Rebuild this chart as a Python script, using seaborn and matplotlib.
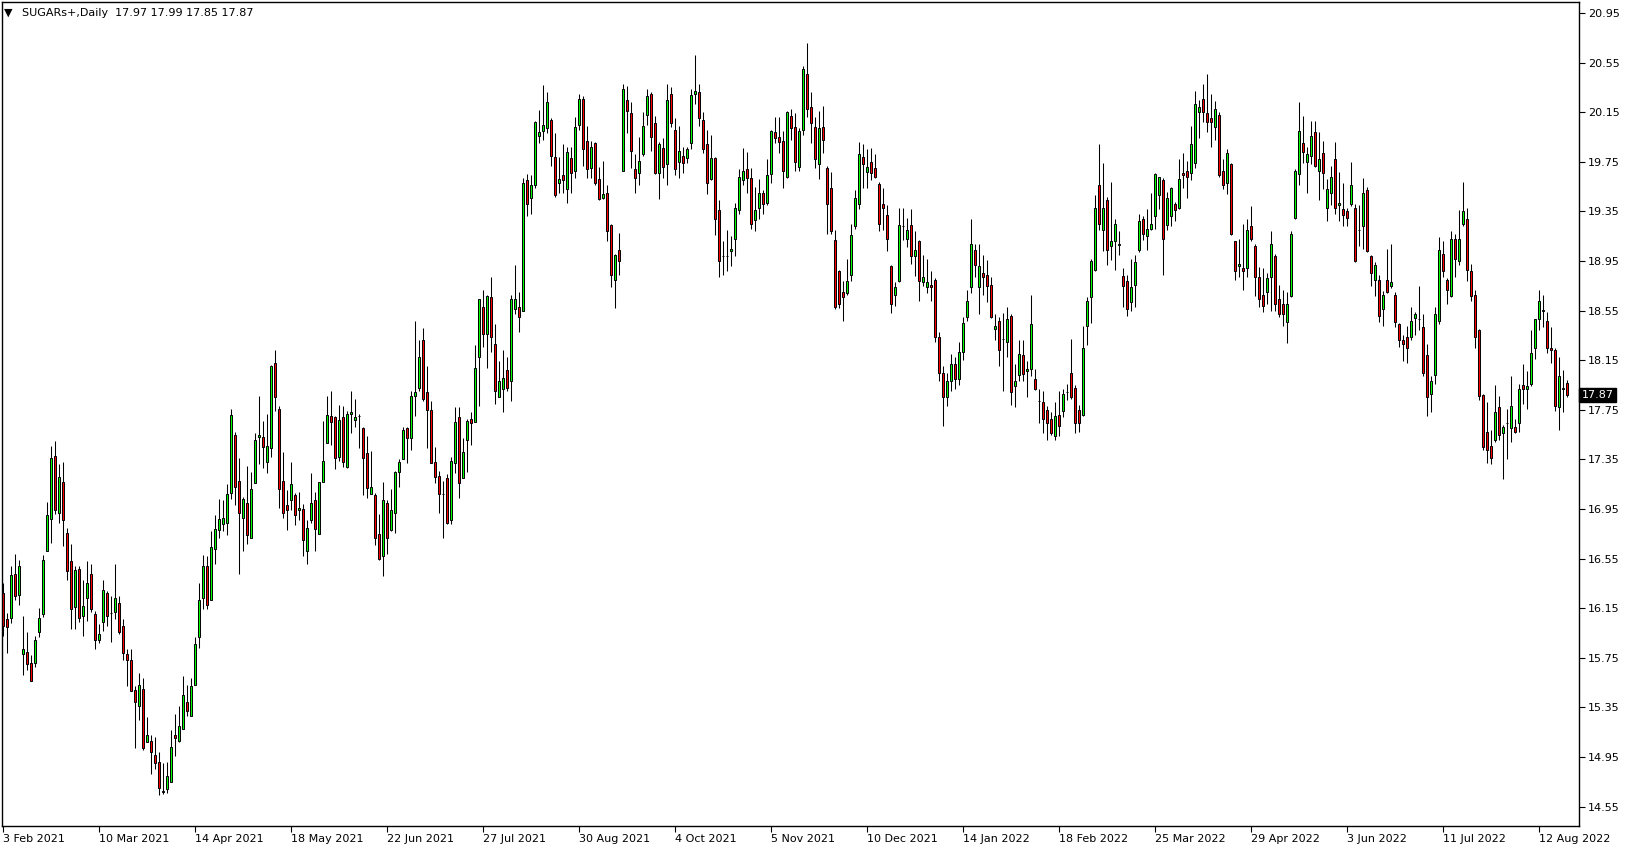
import numpy as np
import pandas as pd
import matplotlib
matplotlib.use("Agg")
import matplotlib.pyplot as plt
import matplotlib.transforms as mtransforms
import seaborn as sns

# daily OHLC, SUGARs+
opens = [
    16.27, 16.06, 16.07, 16.43, 16.26, 15.78, 15.80, 15.71, 15.71, 15.96,
    16.10, 16.61, 16.87, 17.38, 16.92, 17.17, 16.76, 16.53, 16.16, 16.47,
    16.09, 16.23, 16.43, 16.10, 15.89, 16.04, 16.27, 16.11, 16.12, 16.19,
    16.01, 15.78, 15.73, 15.49, 15.36, 15.50, 15.07, 15.08, 14.97, 14.91,
    14.67, 14.69, 14.75, 15.13, 15.08, 15.18, 15.39, 15.28, 15.53, 15.92,
    16.23, 16.49, 16.22, 16.63, 16.78, 16.83, 16.84, 17.08, 17.55, 17.18,
    16.88, 17.00, 16.72, 17.16, 17.53, 17.53, 17.33, 17.44, 18.13, 17.76,
    17.18, 16.98, 17.02, 17.06, 16.94, 16.95, 16.61, 16.86, 17.02, 16.75,
    17.17, 17.48, 17.70, 17.69, 17.37, 17.69, 17.29, 17.72, 17.67, 17.70,
    17.60, 17.40, 17.07, 17.06, 16.75, 16.57, 17.00, 16.78, 16.92, 17.25,
    17.35, 17.60, 17.52, 17.86, 17.93, 18.31, 17.89, 17.75, 17.33, 17.22,
    17.07, 17.20, 16.86, 17.32, 17.69, 17.20, 17.51, 17.68, 17.65, 18.18,
    18.58, 18.36, 18.66, 18.28, 17.85, 17.92, 18.07, 17.98, 18.56, 18.58,
    18.55, 19.60, 19.46, 19.56, 19.96, 20.00, 20.02, 20.09, 19.79, 19.58,
    19.64, 19.53, 19.78, 19.68, 20.05, 20.26, 19.92, 19.70, 19.90, 19.61,
    19.46, 19.50, 19.24, 18.80, 19.04, 19.68, 20.25, 20.14, 19.69, 19.66,
    19.81, 20.13, 20.30, 20.06, 19.66, 19.86, 19.73, 20.30, 20.01, 19.75,
    19.80, 19.78, 19.90, 20.30, 20.31, 20.09, 19.89, 19.61, 19.78, 19.36,
    18.99, 18.99, 19.03, 19.13, 19.36, 19.60, 19.69, 19.62, 19.28, 19.38,
    19.50, 19.42, 19.65, 19.99, 19.95, 19.92, 19.63, 20.12, 20.03, 19.71,
    20.01, 20.46, 20.19, 20.03, 19.73, 20.03, 19.70, 19.54, 19.12, 18.87,
    18.70, 18.69, 18.84, 19.23, 19.41, 19.79, 19.67, 19.75, 19.70, 19.57,
    19.41, 19.32, 18.91, 18.68, 18.79, 19.23, 19.13, 19.24, 18.99, 19.11,
    18.78, 18.74, 18.76, 18.80, 18.34, 18.05, 17.85, 17.98, 18.12, 18.00,
    18.22, 18.50, 18.74, 19.04, 18.74, 18.85, 18.84, 18.76, 18.40, 18.47,
    18.32, 18.30, 18.51, 17.94, 18.03, 18.19, 18.06, 18.08, 18.00, 17.82,
    17.81, 17.75, 17.68, 17.54, 17.71, 17.74, 17.89, 18.05, 17.93, 17.75,
    17.71, 18.43, 18.66, 18.88, 19.56, 19.20, 19.44, 19.07, 19.11, 19.08,
    18.83, 18.79, 18.62, 18.76, 19.04, 19.29, 19.15, 19.21, 19.31, 19.48,
    19.60, 19.24, 19.31, 19.41, 19.38, 19.66, 19.68, 19.66, 19.74, 20.15,
    20.26, 20.14, 20.10, 20.03, 20.13, 19.68, 19.58, 19.73, 19.11, 18.91,
    18.89, 18.89, 19.23, 19.07, 18.82, 18.68, 18.70, 18.82, 18.99, 18.64,
    18.60, 18.46, 18.67, 19.30, 19.65, 19.90, 19.75, 19.80, 19.99, 19.68,
    19.82, 19.38, 19.50, 19.77, 19.40, 19.37, 19.35, 19.41, 19.38, 19.20,
    19.23, 19.52, 18.99, 18.80, 18.80, 18.56, 18.80, 18.75, 18.68, 18.44,
    18.31, 18.34, 18.34, 18.49, 18.48, 18.42, 18.19, 17.88, 18.03, 18.47,
    19.01, 18.80, 18.67, 19.13, 18.95, 19.25, 19.29, 18.87, 18.68, 18.39,
    17.87, 17.57, 17.46, 17.51, 17.77, 17.56, 17.64, 17.60, 17.61, 17.64,
    17.95, 17.92, 17.96, 18.25, 18.48, 18.55, 18.47, 18.25, 18.23, 17.77,
    17.92, 17.97,
]
highs = [
    16.35, 16.11, 16.49, 16.59, 16.54, 16.09, 15.96, 15.77, 15.93, 16.15,
    16.58, 17.01, 17.46, 17.50, 17.31, 17.33, 16.80, 16.67, 16.49, 16.49,
    16.38, 16.53, 16.51, 16.13, 16.02, 16.38, 16.29, 16.25, 16.51, 16.25,
    16.06, 15.82, 15.82, 15.52, 15.63, 15.59, 15.27, 15.13, 15.11, 14.99,
    14.90, 14.91, 15.17, 15.30, 15.36, 15.60, 15.53, 15.59, 15.92, 16.35,
    16.58, 16.57, 16.77, 16.90, 17.03, 17.02, 17.15, 17.76, 17.57, 17.36,
    17.05, 17.30, 17.25, 17.56, 17.86, 17.66, 17.72, 18.11, 18.23, 17.78,
    17.41, 17.10, 17.33, 17.08, 17.09, 16.99, 16.86, 17.24, 17.09, 17.17,
    17.66, 17.86, 17.90, 17.70, 17.79, 17.78, 17.74, 17.90, 17.84, 17.72,
    17.61, 17.54, 17.42, 17.08, 16.91, 17.17, 17.02, 17.11, 17.26, 17.35,
    17.61, 17.61, 17.90, 18.47, 18.31, 18.41, 18.10, 17.82, 17.45, 17.26,
    17.18, 17.23, 17.37, 17.77, 17.77, 17.52, 17.68, 17.73, 18.27, 18.64,
    18.72, 18.68, 18.82, 18.44, 18.14, 18.23, 18.18, 18.68, 18.92, 18.70,
    19.62, 19.65, 19.64, 20.08, 20.17, 20.37, 20.31, 20.10, 19.98, 19.79,
    19.89, 19.87, 19.87, 20.11, 20.30, 20.28, 20.04, 19.92, 19.91, 19.71,
    19.76, 19.56, 19.25, 19.01, 19.18, 20.38, 20.36, 20.23, 19.81, 19.95,
    20.15, 20.34, 20.31, 20.12, 19.91, 19.94, 20.38, 20.35, 20.10, 20.04,
    19.87, 19.87, 20.34, 20.61, 20.38, 20.15, 20.01, 19.97, 19.79, 19.44,
    19.11, 19.20, 19.15, 19.42, 19.69, 19.86, 19.83, 19.70, 19.55, 19.61,
    19.52, 19.77, 20.01, 20.11, 20.11, 20.00, 20.16, 20.18, 20.14, 20.02,
    20.52, 20.71, 20.31, 20.11, 20.16, 20.20, 19.72, 19.67, 19.20, 18.88,
    18.79, 18.97, 19.25, 19.52, 19.91, 19.89, 19.85, 19.86, 19.81, 19.59,
    19.54, 19.40, 18.92, 18.78, 19.38, 19.38, 19.30, 19.37, 19.19, 19.12,
    19.00, 18.97, 18.87, 18.81, 18.38, 18.10, 18.05, 18.20, 18.18, 18.30,
    18.50, 18.72, 19.29, 19.09, 19.09, 19.00, 18.96, 18.82, 18.52, 18.50,
    18.53, 18.58, 18.52, 18.12, 18.31, 18.31, 18.14, 18.68, 18.08, 17.92,
    17.90, 17.78, 17.73, 17.81, 17.90, 17.92, 17.96, 18.32, 17.95, 17.79,
    18.43, 18.66, 18.97, 19.48, 19.89, 19.74, 19.47, 19.59, 19.29, 19.19,
    18.89, 18.84, 18.97, 19.00, 19.33, 19.31, 19.37, 19.50, 19.66, 19.63,
    19.62, 19.51, 19.55, 19.43, 19.77, 19.82, 19.76, 20.04, 20.32, 20.25,
    20.38, 20.46, 20.30, 20.24, 20.15, 19.77, 19.85, 19.74, 19.11, 19.13,
    19.25, 19.29, 19.39, 19.09, 18.90, 18.89, 18.85, 19.19, 19.01, 18.76,
    18.72, 18.70, 19.19, 19.69, 20.23, 20.12, 19.87, 20.08, 20.08, 19.99,
    19.92, 19.61, 19.72, 19.91, 19.67, 19.58, 19.38, 19.75, 19.41, 19.40,
    19.62, 19.55, 19.00, 18.94, 18.84, 18.71, 19.05, 19.09, 18.70, 18.45,
    18.35, 18.43, 18.58, 18.54, 18.75, 18.52, 18.28, 18.02, 18.58, 19.14,
    19.11, 18.81, 19.19, 19.17, 19.36, 19.59, 19.38, 18.93, 18.72, 18.40,
    17.88, 17.81, 17.59, 17.95, 17.86, 17.63, 17.76, 18.02, 17.68, 17.96,
    18.12, 18.06, 18.39, 18.48, 18.72, 18.68, 18.54, 18.42, 18.25, 18.18,
    18.07, 17.99,
]
lows = [
    15.93, 15.79, 16.03, 16.22, 16.18, 15.61, 15.65, 15.56, 15.68, 15.92,
    16.08, 16.61, 16.68, 16.91, 16.84, 16.65, 16.38, 15.98, 15.98, 16.04,
    15.93, 16.05, 16.12, 15.82, 15.87, 15.97, 16.01, 15.88, 16.06, 15.94,
    15.73, 15.52, 15.48, 15.02, 15.25, 15.01, 15.07, 14.81, 14.85, 14.64,
    14.65, 14.66, 14.75, 14.96, 15.07, 15.18, 15.28, 15.28, 15.53, 15.83,
    16.14, 16.14, 16.22, 16.51, 16.72, 16.77, 16.74, 17.03, 16.98, 16.43,
    16.61, 16.67, 16.72, 17.16, 17.31, 17.28, 17.24, 17.37, 17.74, 16.96,
    16.88, 16.78, 16.94, 16.82, 16.86, 16.57, 16.51, 16.84, 16.61, 16.75,
    17.17, 17.48, 17.47, 17.27, 17.34, 17.29, 17.28, 17.56, 17.61, 17.44,
    17.06, 17.04, 17.07, 16.66, 16.54, 16.41, 16.59, 16.77, 16.76, 17.13,
    17.35, 17.32, 17.43, 17.70, 17.90, 17.82, 17.44, 17.32, 17.16, 16.92,
    16.72, 16.83, 16.83, 17.24, 17.04, 17.20, 17.25, 17.47, 17.65, 17.78,
    18.26, 18.09, 18.22, 17.80, 17.85, 17.73, 17.90, 17.82, 18.52, 18.38,
    18.55, 19.31, 19.33, 19.54, 19.90, 19.93, 19.98, 19.72, 19.47, 19.50,
    19.50, 19.42, 19.50, 19.62, 20.01, 19.72, 19.62, 19.62, 19.56, 19.44,
    19.45, 19.11, 18.74, 18.57, 18.84, 19.68, 19.98, 19.70, 19.50, 19.56,
    19.80, 20.05, 19.84, 19.65, 19.45, 19.62, 19.56, 20.03, 19.64, 19.62,
    19.66, 19.74, 19.85, 20.22, 20.04, 19.82, 19.49, 19.60, 19.16, 18.82,
    18.84, 18.87, 18.91, 18.99, 19.33, 19.56, 19.50, 19.21, 19.19, 19.29,
    19.33, 19.40, 19.58, 19.90, 19.82, 19.54, 19.62, 19.93, 19.68, 19.68,
    19.97, 20.11, 19.90, 19.70, 19.61, 19.82, 19.17, 19.17, 18.56, 18.57,
    18.47, 18.68, 18.79, 19.21, 19.37, 19.54, 19.54, 19.60, 19.62, 19.19,
    19.20, 19.03, 18.53, 18.59, 18.78, 19.12, 19.06, 18.93, 18.83, 18.63,
    18.75, 18.69, 18.63, 18.30, 17.98, 17.62, 17.78, 17.90, 17.92, 17.95,
    18.15, 18.47, 18.69, 18.82, 18.52, 18.68, 18.62, 18.49, 18.31, 18.10,
    17.90, 18.18, 17.79, 17.77, 17.98, 17.98, 17.85, 18.02, 17.91, 17.64,
    17.56, 17.51, 17.55, 17.51, 17.54, 17.69, 17.83, 17.84, 17.56, 17.57,
    17.70, 18.27, 18.45, 18.87, 19.20, 19.03, 18.92, 18.96, 18.88, 19.00,
    18.58, 18.51, 18.55, 18.58, 19.02, 19.12, 19.04, 19.20, 19.21, 19.37,
    18.84, 19.20, 19.23, 19.27, 19.37, 19.54, 19.46, 19.60, 19.70, 19.94,
    20.07, 19.99, 19.87, 19.93, 19.63, 19.53, 19.49, 19.16, 18.80, 18.82,
    18.72, 18.82, 19.11, 18.67, 18.58, 18.54, 18.60, 18.55, 18.55, 18.50,
    18.43, 18.29, 18.66, 19.29, 19.56, 19.74, 19.50, 19.73, 19.71, 19.44,
    19.53, 19.27, 19.40, 19.33, 19.27, 19.23, 19.23, 19.39, 18.94, 19.07,
    19.05, 19.02, 18.75, 18.67, 18.46, 18.43, 18.69, 18.73, 18.42, 18.26,
    18.14, 18.13, 18.31, 18.35, 18.39, 18.02, 17.70, 17.73, 17.96, 18.44,
    18.82, 18.60, 18.66, 18.82, 18.92, 19.23, 18.79, 18.63, 18.25, 17.83,
    17.43, 17.32, 17.31, 17.49, 17.51, 17.19, 17.35, 17.49, 17.56, 17.57,
    17.80, 17.76, 17.94, 18.16, 18.39, 18.42, 18.21, 18.13, 17.74, 17.59,
    17.73, 17.85,
]
closes = [
    16.01, 16.00, 16.42, 16.25, 16.49, 15.82, 15.70, 15.56, 15.89, 16.07,
    16.54, 16.90, 17.36, 16.94, 17.21, 16.86, 16.45, 16.14, 16.46, 16.07,
    16.17, 16.35, 16.14, 15.89, 15.94, 16.30, 16.09, 16.11, 16.23, 15.96,
    15.79, 15.73, 15.48, 15.39, 15.53, 15.02, 15.13, 14.99, 14.90, 14.70,
    14.67, 14.80, 15.03, 15.10, 15.20, 15.45, 15.32, 15.52, 15.86, 16.22,
    16.49, 16.18, 16.64, 16.79, 16.87, 16.88, 17.07, 17.71, 17.13, 16.92,
    17.03, 16.74, 17.11, 17.51, 17.55, 17.45, 17.46, 18.10, 17.85, 17.11,
    16.92, 16.94, 17.15, 16.90, 16.96, 16.70, 16.80, 17.00, 16.79, 17.17,
    17.34, 17.71, 17.65, 17.36, 17.67, 17.33, 17.72, 17.73, 17.69, 17.70,
    17.36, 17.12, 17.13, 16.72, 16.55, 17.02, 16.72, 16.94, 17.25, 17.33,
    17.59, 17.52, 17.86, 17.89, 18.18, 17.84, 17.75, 17.32, 17.21, 17.07,
    17.07, 16.84, 17.34, 17.65, 17.16, 17.41, 17.66, 17.64, 18.09, 18.64,
    18.36, 18.67, 18.34, 17.90, 17.98, 18.01, 17.93, 18.64, 18.64, 18.50,
    19.58, 19.41, 19.56, 20.07, 19.99, 20.05, 20.23, 19.80, 19.48, 19.61,
    19.60, 19.83, 19.66, 20.03, 20.26, 19.85, 19.69, 19.87, 19.58, 19.45,
    19.49, 19.19, 18.84, 19.00, 18.95, 20.34, 20.16, 19.84, 19.62, 19.76,
    20.04, 20.28, 19.95, 19.66, 19.89, 19.71, 20.25, 20.06, 19.69, 19.84,
    19.74, 19.85, 20.29, 20.32, 20.10, 19.85, 19.58, 19.78, 19.29, 18.95,
    18.99, 18.99, 19.05, 19.38, 19.63, 19.68, 19.62, 19.25, 19.36, 19.50,
    19.41, 19.64, 20.00, 19.94, 19.91, 19.68, 20.15, 20.02, 19.75, 20.00,
    20.50, 20.18, 20.06, 19.77, 20.02, 19.93, 19.41, 19.19, 18.58, 18.60,
    18.66, 18.79, 19.16, 19.46, 19.81, 19.73, 19.71, 19.66, 19.63, 19.25,
    19.38, 19.13, 18.60, 18.74, 19.24, 19.23, 19.20, 18.99, 19.04, 18.79,
    18.82, 18.78, 18.74, 18.34, 18.05, 17.85, 17.98, 18.12, 18.00, 18.22,
    18.45, 18.63, 19.09, 18.92, 18.91, 18.82, 18.75, 18.50, 18.43, 18.23,
    18.32, 18.48, 17.89, 17.98, 18.20, 18.04, 18.08, 18.44, 17.92, 17.82,
    17.68, 17.64, 17.56, 17.70, 17.62, 17.88, 17.89, 17.85, 17.64, 17.64,
    18.25, 18.63, 18.95, 19.38, 19.25, 19.38, 19.04, 19.11, 19.25, 19.09,
    18.75, 18.56, 18.74, 18.94, 19.27, 19.17, 19.21, 19.25, 19.65, 19.63,
    19.13, 19.46, 19.54, 19.36, 19.61, 19.64, 19.63, 19.89, 20.22, 20.19,
    20.15, 20.07, 20.07, 20.18, 19.64, 19.56, 19.82, 19.17, 18.87, 18.93,
    18.87, 19.20, 19.13, 18.82, 18.64, 18.59, 18.81, 19.09, 18.60, 18.52,
    18.52, 18.60, 19.17, 19.68, 20.00, 19.83, 19.81, 19.96, 19.72, 19.77,
    19.66, 19.53, 19.63, 19.38, 19.42, 19.32, 19.30, 19.56, 18.95, 19.20,
    19.50, 19.03, 18.85, 18.92, 18.51, 18.68, 18.70, 18.78, 18.46, 18.31,
    18.28, 18.25, 18.47, 18.52, 18.48, 18.05, 17.85, 17.98, 18.52, 19.04,
    18.87, 18.72, 19.13, 18.97, 19.13, 19.35, 18.88, 18.67, 18.34, 17.86,
    17.45, 17.43, 17.36, 17.73, 17.55, 17.61, 17.64, 17.78, 17.57, 17.92,
    17.92, 17.94, 18.21, 18.48, 18.63, 18.55, 18.25, 18.23, 17.78, 18.02,
    17.92, 17.87,
]

date_labels = ["3 Feb 2021", "10 Mar 2021", "14 Apr 2021", "18 May 2021",
               "22 Jun 2021", "27 Jul 2021", "30 Aug 2021", "4 Oct 2021",
               "5 Nov 2021", "10 Dec 2021", "14 Jan 2022", "18 Feb 2022",
               "25 Mar 2022", "29 Apr 2022", "3 Jun 2022", "11 Jul 2022",
               "12 Aug 2022"]
bars_per_label = 24
price_ticks = [20.95, 20.55, 20.15, 19.75, 19.35, 18.95, 18.55, 18.15,
               17.75, 17.35, 16.95, 16.55, 16.15, 15.75, 15.35, 14.95, 14.55]
header = "SUGARs+,Daily  17.97 17.99 17.85 17.87"
last_price = 17.87

df = pd.DataFrame({"open": opens, "high": highs, "low": lows, "close": closes})
df["bar"] = np.arange(len(df))
df["up"] = df["close"] >= df["open"]
df["high"] = df[["high", "open", "close"]].max(axis=1)
df["low"] = df[["low", "open", "close"]].min(axis=1)
df["body_lo"] = df[["open", "close"]].min(axis=1)
df["body_h"] = (df["close"] - df["open"]).abs().clip(lower=0.004)

sns.set_theme(style="white")
plt.rcParams["font.family"] = ["DejaVu Sans"]

W, H = 1629, 850
fig = plt.figure(figsize=(W / 100, H / 100), dpi=100)
fig.patch.set_facecolor("white")
ax = fig.add_axes([2 / W, 24 / H, 1577 / W, 824 / H])
ax.set_facecolor("white")

# wicks then bodies
ax.vlines(df["bar"], df["low"], df["high"], color="black", linewidth=0.75, zorder=1)
colors = np.where(df["up"], "#00ff00", "#ff0000")
ax.bar(df["bar"], df["body_h"], bottom=df["body_lo"], width=0.62,
       color=colors, edgecolor="black", linewidth=0.7, zorder=2)

ax.set_xlim(-0.25, 394.0)
ax.set_ylim(14.394, 21.039)

# x axis
xt = np.arange(len(date_labels)) * bars_per_label
ax.set_xticks(xt)
ax.set_xticklabels(date_labels, ha="left")
offset = mtransforms.ScaledTranslation(1.5 / 100, 0, fig.dpi_scale_trans)
for lbl in ax.get_xticklabels():
    lbl.set_transform(lbl.get_transform() + offset)

# y axis on the right
ax.yaxis.tick_right()
ax.set_yticks(price_ticks)
ax.set_yticklabels([f"{v:.2f}" for v in price_ticks])

ax.tick_params(axis="both", which="major", direction="out", length=4, width=0.8,
               color="black", labelcolor="black", labelsize=8)
ax.tick_params(axis="x", pad=1.5, bottom=True)
ax.tick_params(axis="y", pad=2.5, right=True, left=False)
for sp in ax.spines.values():
    sp.set_visible(True)
    sp.set_color("black")
    sp.set_linewidth(1.0)
ax.grid(False)

# header
fig.text(4 / W, 1 - 12.5 / H, "\u25BC", fontsize=8, va="center", ha="left", color="black")
fig.text(22 / W, 1 - 12.5 / H, header, fontsize=8, va="center", ha="left", color="black")

# current price tag
trans = mtransforms.blended_transform_factory(ax.transAxes, ax.transData)
ax.text(1.0015, last_price, f"{last_price:.2f}", transform=trans, ha="left", va="center",
        fontsize=8, color="white", clip_on=False,
        bbox=dict(boxstyle="square,pad=0.22", facecolor="black", edgecolor="black"))

fig.savefig("out.png", dpi=100)
